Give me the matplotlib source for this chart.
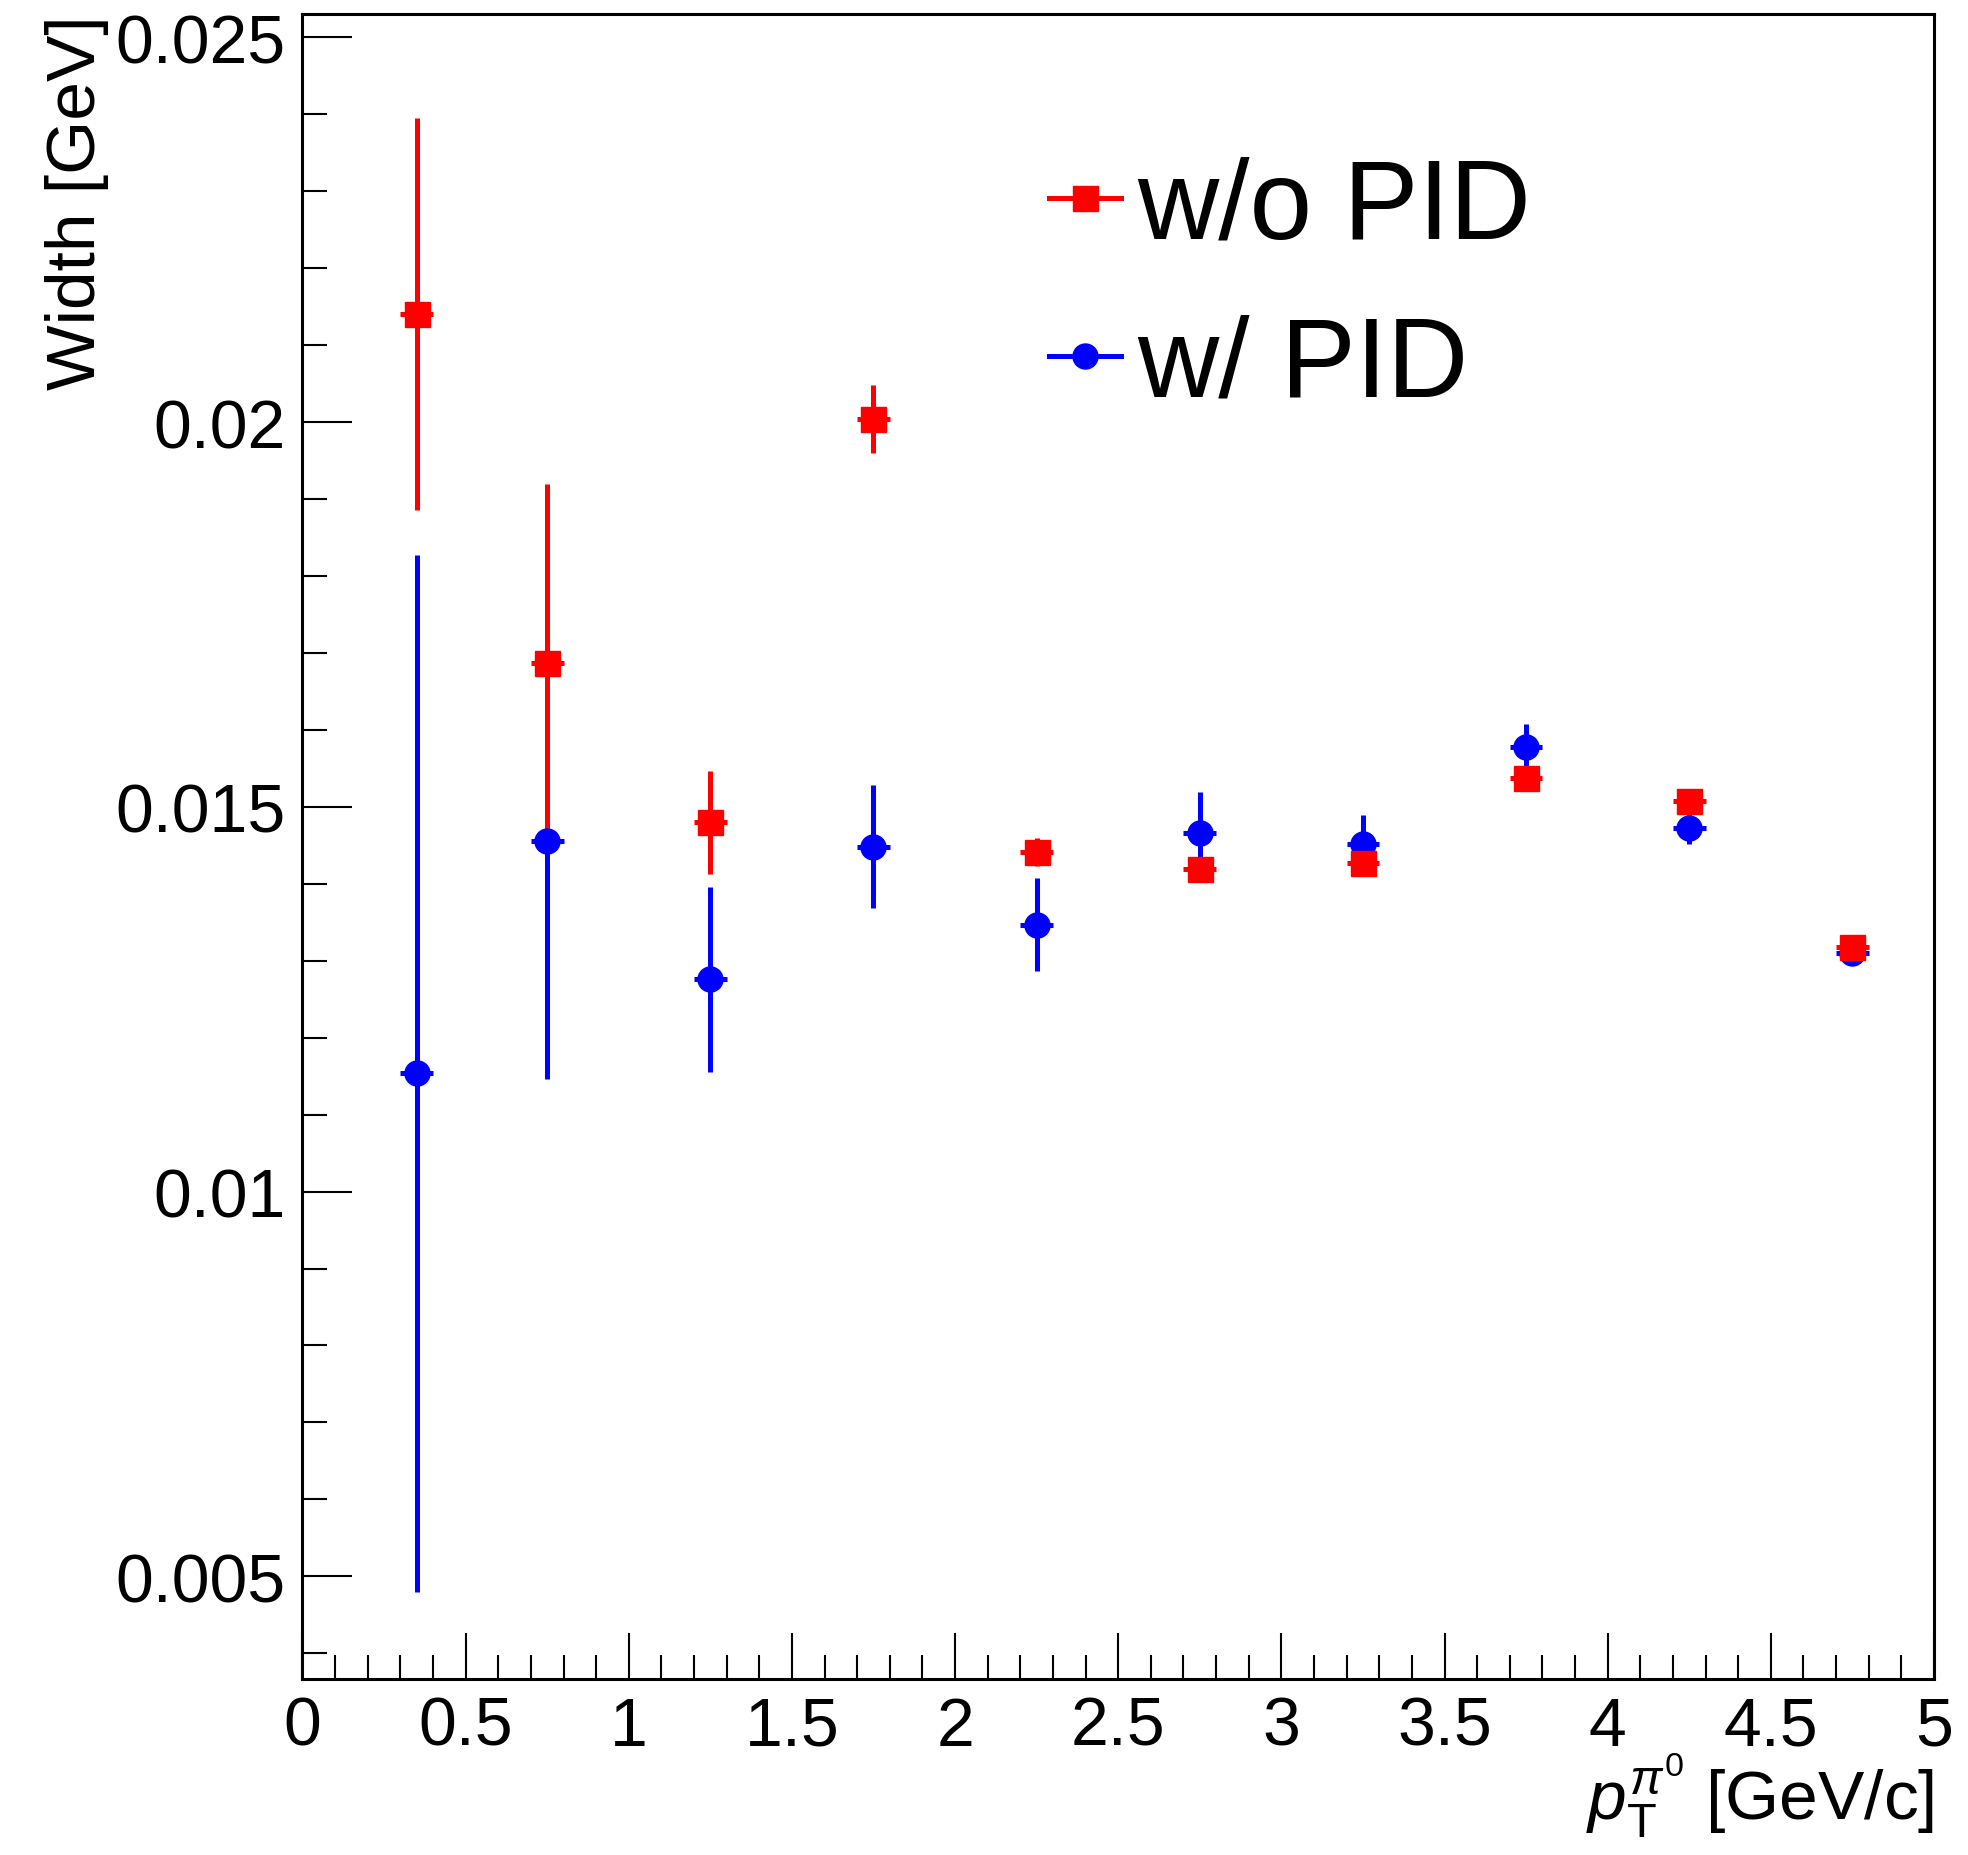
import matplotlib
matplotlib.use("Agg")
import matplotlib.pyplot as plt
from matplotlib.lines import Line2D
from matplotlib.ticker import MultipleLocator

plt.rcParams['font.family'] = ['Liberation Sans', 'DejaVu Sans']
plt.rcParams['mathtext.fontset'] = 'custom'
plt.rcParams['mathtext.rm'] = 'Liberation Sans'
plt.rcParams['mathtext.it'] = 'Liberation Sans:italic'

# pT bins (centres and half widths)
pt = [0.35, 0.75, 1.25, 1.75, 2.25, 2.75, 3.25, 3.75, 4.25, 4.75]
pt_err = [0.05] * 10

# width without PID
w_nopid = [0.02141, 0.01687, 0.01480, 0.02004, 0.01441, 0.01419, 0.01427, 0.01537, 0.01508, 0.01318]
w_nopid_err = [0.00255, 0.00233, 0.00067, 0.00044, 0.00018, 0.00010, 0.00010, 0.00010, 0.00010, 0.00008]

# width with PID
w_pid = [0.01154, 0.01456, 0.01276, 0.01448, 0.01347, 0.01466, 0.01452, 0.01578, 0.01472, 0.01310]
w_pid_err = [0.00674, 0.00310, 0.00120, 0.00080, 0.00060, 0.00053, 0.00038, 0.00030, 0.00020, 0.00010]

fig = plt.figure(figsize=(19.68, 18.56), dpi=100)
ax = fig.add_axes([0.1537, 0.0946, 0.8290, 0.8971])

ms = 18
lw = 3.6
ax.errorbar(pt, w_pid, xerr=pt_err, yerr=w_pid_err, fmt='o', color='blue',
            ms=ms, elinewidth=lw, capsize=0)
ax.errorbar(pt, w_nopid, xerr=pt_err, yerr=w_nopid_err, fmt='s', color='red',
            ms=ms, elinewidth=lw, capsize=0)

ax.set_xlim(0, 5)
ax.set_ylim(0.00366, 0.0253)

ax.xaxis.set_minor_locator(MultipleLocator(0.1))
ax.yaxis.set_minor_locator(MultipleLocator(0.001))
ax.set_xticks([0, 0.5, 1, 1.5, 2, 2.5, 3, 3.5, 4, 4.5, 5],
              ['0', '0.5', '1', '1.5', '2', '2.5', '3', '3.5', '4', '4.5', '5'])
ax.set_yticks([0.005, 0.01, 0.015, 0.02, 0.025],
              ['0.005', '0.01', '0.015', '0.02', '0.025'])

ax.tick_params(which='both', direction='in', width=1.5, labelsize=49,
               top=False, right=False)
ax.tick_params(axis='y', which='major', length=36, pad=12)
ax.tick_params(axis='y', which='minor', length=18)
ax.tick_params(axis='x', which='major', length=33, pad=11)
ax.tick_params(axis='x', which='minor', length=17)
for s in ax.spines.values():
    s.set_linewidth(2.2)

ax.set_ylabel('Width [GeV]', fontsize=50, loc='top')
ax.yaxis.set_label_coords(-0.1186, 1.0)
ax.set_xlabel(r'$p_{\mathrm{T}}^{\pi^{0}}$ [GeV/c]', fontsize=50, loc='right')
ax.xaxis.label.set_va('baseline')
ax.xaxis.set_label_coords(1.0, -0.0836)

handles = [Line2D([], [], color='red', marker='s', ms=ms, lw=3.6),
           Line2D([], [], color='blue', marker='o', ms=ms, lw=3.6)]
ax.legend(handles, ['w/o PID', 'w/ PID'], fontsize=81, frameon=False,
          loc='upper left', bbox_to_anchor=(0.533, 0.9155),
          bbox_transform=fig.transFigure, borderpad=0, borderaxespad=0,
          handlelength=0.64, handletextpad=0.14, labelspacing=0.46)

fig.savefig('out.png', dpi=100)
